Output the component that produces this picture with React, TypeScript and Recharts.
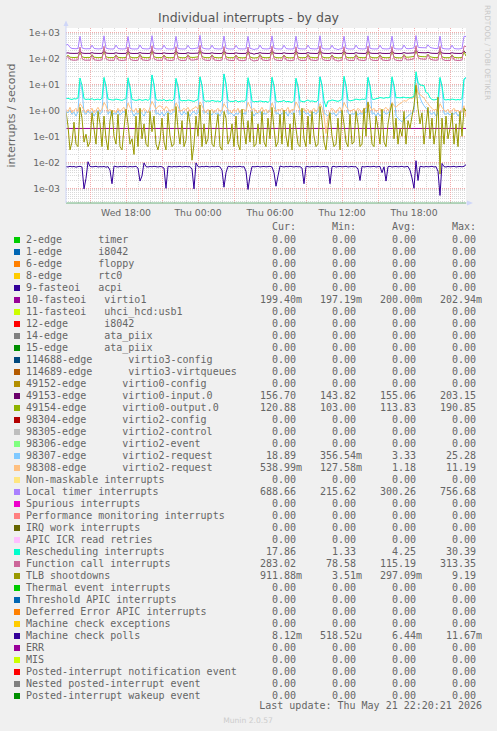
import { LineChart, Line, XAxis, YAxis, CartesianGrid } from 'recharts'

// sample times, minutes after Wed 13:00 (one sample per 10 min)
const times = [
  0, 10, 20, 30, 40, 50, 60, 70, 80, 90, 100, 110,
  120, 130, 140, 150, 160, 170, 180, 190, 200, 210, 220, 230,
  240, 250, 260, 270, 280, 290, 300, 310, 320, 330, 340, 350,
  360, 370, 380, 390, 400, 410, 420, 430, 440, 450, 460, 470,
  480, 490, 500, 510, 520, 530, 540, 550, 560, 570, 580, 590,
  600, 610, 620, 630, 640, 650, 660, 670, 680, 690, 700, 710,
  720, 730, 740, 750, 760, 770, 780, 790, 800, 810, 820, 830,
  840, 850, 860, 870, 880, 890, 900, 910, 920, 930, 940, 950,
  960, 970, 980, 990, 1000, 1010, 1020, 1030, 1040, 1050, 1060, 1070,
  1080, 1090, 1100, 1110, 1120, 1130, 1140, 1150, 1160, 1170, 1180, 1190,
  1200, 1210, 1220, 1230, 1240, 1250, 1260, 1270, 1280, 1290, 1300, 1310,
  1320, 1330, 1340, 1350, 1360, 1370, 1380, 1390, 1400, 1410, 1420, 1430,
  1440, 1450, 1460, 1470, 1480, 1490, 1500, 1510, 1520, 1530, 1540, 1550,
  1560, 1570, 1580, 1590, 1600, 1610, 1620, 1630, 1640, 1650, 1660, 1670,
  1680, 1690, 1700, 1710, 1720, 1730, 1740, 1750, 1760, 1770, 1780, 1790,
  1800, 1810, 1820, 1830, 1840, 1850, 1860, 1870, 1880, 1890, 1900, 1910,
  1920, 1930, 1940, 1950, 1960, 1970, 1980, 1990, 2000,
]

const localTimer = [
  330, 340, 262, 238, 236, 233, 240, 705, 252, 236, 231, 234,
  232, 318, 240, 234, 230, 231, 238, 730, 246, 234, 229, 228,
  230, 322, 238, 232, 229, 230, 236, 690, 240, 230, 228, 229,
  231, 325, 240, 233, 230, 229, 237, 740, 244, 232, 229, 230,
  229, 320, 236, 231, 228, 230, 236, 700, 240, 231, 229, 228,
  233, 316, 239, 232, 236, 245, 250, 756, 258, 238, 231, 229,
  230, 318, 237, 233, 229, 228, 235, 720, 242, 232, 228, 229,
  228, 315, 236, 231, 230, 229, 236, 698, 240, 231, 218, 230,
  230, 322, 238, 232, 229, 230, 237, 725, 243, 233, 229, 228,
  229, 318, 237, 231, 228, 229, 236, 710, 241, 232, 230, 229,
  231, 320, 238, 233, 230, 229, 237, 735, 244, 231, 229, 230,
  230, 317, 236, 232, 216, 230, 236, 705, 240, 231, 228, 229,
  229, 321, 239, 233, 230, 229, 238, 728, 243, 232, 229, 230,
  231, 319, 237, 232, 229, 230, 236, 712, 241, 231, 229, 228,
  230, 323, 240, 234, 236, 242, 252, 745, 268, 258, 256, 254,
  252, 330, 262, 250, 240, 236, 240, 715, 246, 234, 230, 229,
  230, 318, 238, 232, 229, 231, 240, 700, 688.66,
]

const functionCall = [
  95, 120, 90, 86, 84, 85, 88, 270, 98, 86, 84, 85,
  84, 135, 88, 85, 83, 84, 87, 290, 96, 85, 83, 84,
  83, 132, 87, 84, 82, 84, 86, 275, 95, 85, 83, 82,
  84, 138, 88, 85, 83, 83, 87, 300, 97, 86, 83, 84,
  83, 130, 87, 84, 82, 83, 86, 280, 95, 84, 82, 83,
  84, 134, 88, 85, 86, 90, 92, 313, 105, 88, 84, 83,
  83, 133, 87, 84, 82, 82, 86, 285, 96, 85, 83, 82,
  82, 130, 86, 83, 81, 82, 85, 272, 94, 84, 78.6, 82,
  83, 136, 88, 84, 82, 83, 86, 292, 97, 85, 83, 82,
  82, 131, 87, 83, 81, 82, 85, 278, 95, 84, 82, 83,
  84, 137, 88, 85, 83, 82, 86, 298, 98, 85, 83, 82,
  83, 132, 87, 84, 79, 82, 85, 282, 95, 84, 82, 83,
  82, 135, 88, 85, 83, 82, 86, 294, 97, 85, 83, 82,
  83, 133, 87, 84, 82, 83, 85, 284, 95, 84, 82, 81,
  82, 136, 89, 86, 88, 92, 96, 305, 110, 96, 94, 92,
  92, 140, 94, 88, 85, 84, 86, 288, 97, 85, 82, 83,
  82, 132, 87, 84, 82, 83, 86, 292, 283.02,
]

const virtio0Input = [
  158, 162, 156, 155, 154, 155, 156, 185, 160, 155, 154, 155,
  154, 165, 156, 155, 154, 154, 156, 198, 160, 155, 154, 154,
  154, 163, 155, 154, 153, 154, 155, 190, 158, 154, 153, 154,
  154, 166, 156, 155, 154, 153, 156, 203, 161, 155, 154, 154,
  153, 162, 155, 154, 153, 154, 155, 192, 158, 154, 153, 153,
  154, 164, 156, 155, 155, 157, 158, 200, 163, 156, 154, 154,
  154, 163, 155, 154, 153, 153, 155, 195, 159, 154, 153, 154,
  153, 162, 155, 154, 153, 154, 155, 188, 158, 154, 144, 153,
  154, 165, 156, 155, 154, 153, 156, 199, 160, 155, 154, 154,
  153, 163, 155, 154, 153, 154, 155, 191, 158, 154, 153, 154,
  154, 166, 156, 155, 154, 153, 156, 201, 161, 155, 154, 153,
  154, 162, 155, 154, 153, 154, 155, 193, 158, 154, 153, 154,
  153, 165, 156, 155, 154, 153, 156, 198, 160, 155, 154, 154,
  154, 163, 155, 154, 153, 154, 155, 194, 158, 154, 153, 153,
  154, 166, 157, 156, 158, 160, 162, 202, 168, 165, 164, 163,
  162, 170, 160, 156, 155, 154, 156, 196, 160, 155, 154, 154,
  153, 164, 156, 155, 154, 154, 156, 190, 156.7,
]

const virtio0Output = [
  112, 130, 110, 108, 107, 108, 110, 170, 115, 108, 107, 108,
  107, 138, 110, 108, 106, 107, 109, 185, 114, 108, 106, 107,
  106, 135, 109, 107, 105, 106, 108, 178, 113, 107, 105, 106,
  107, 140, 110, 108, 106, 106, 109, 190, 115, 108, 106, 107,
  106, 134, 109, 107, 105, 106, 108, 180, 113, 107, 105, 105,
  107, 137, 110, 108, 108, 111, 113, 188, 118, 109, 106, 106,
  106, 136, 109, 107, 105, 105, 108, 182, 114, 107, 105, 106,
  105, 133, 108, 106, 104, 105, 107, 175, 112, 106, 103, 105,
  106, 139, 110, 107, 105, 106, 108, 186, 114, 107, 105, 105,
  105, 134, 109, 106, 104, 105, 107, 179, 113, 106, 105, 106,
  107, 140, 110, 108, 106, 105, 108, 188, 115, 107, 105, 105,
  106, 135, 109, 107, 103, 105, 107, 181, 113, 106, 105, 106,
  105, 138, 110, 107, 106, 105, 108, 186, 114, 107, 105, 105,
  106, 136, 109, 107, 105, 106, 107, 183, 113, 106, 105, 104,
  105, 139, 111, 110, 112, 115, 118, 190, 124, 118, 116, 115,
  114, 142, 115, 110, 107, 106, 108, 184, 114, 107, 105, 106,
  105, 136, 109, 107, 105, 106, 108, 176, 120.88,
]

const rescheduling = [
  2.8, 2.9, 2.7, 2.6, 2.8, 2.7, 3.0, 17.5, 9.0, 2.8, 2.6, 2.7,
  2.6, 2.8, 2.5, 2.6, 2.7, 2.5, 2.9, 18.5, 8.5, 2.7, 2.6, 2.5,
  2.5, 2.7, 2.6, 2.5, 2.4, 2.6, 2.8, 17.8, 8.0, 2.6, 2.5, 2.4,
  2.5, 2.6, 2.4, 2.5, 2.6, 2.4, 2.8, 22.5, 9.5, 2.6, 2.4, 2.5,
  2.4, 2.6, 2.3, 2.4, 2.5, 2.3, 2.7, 17.0, 8.0, 2.5, 2.3, 2.4,
  2.3, 2.5, 2.4, 2.3, 2.2, 2.4, 2.6, 19.5, 9.0, 2.4, 2.2, 2.3,
  2.2, 2.4, 2.3, 2.2, 2.3, 2.1, 2.5, 24.5, 10.0, 2.4, 2.2, 2.2,
  2.2, 2.4, 2.1, 2.2, 2.3, 2.2, 2.5, 18.0, 8.5, 2.3, 2.1, 2.2,
  2.1, 2.3, 2.2, 2.1, 2.2, 2.0, 2.4, 18.8, 8.8, 2.3, 2.1, 2.2,
  2.2, 2.4, 2.1, 2.2, 2.1, 2.0, 2.4, 17.2, 8.0, 2.3, 2.2, 2.1,
  2.3, 2.5, 2.2, 2.3, 2.2, 2.1, 2.5, 19.0, 9.0, 2.4, 1.33, 2.3,
  2.3, 2.5, 2.4, 2.3, 2.2, 2.4, 2.6, 20.5, 9.2, 2.5, 2.3, 2.4,
  2.5, 2.7, 2.6, 2.5, 2.7, 2.6, 2.8, 18.5, 8.5, 2.7, 2.6, 2.8,
  2.9, 3.1, 3.0, 2.9, 3.1, 3.0, 3.2, 19.5, 9.0, 3.0, 3.1, 3.0,
  3.1, 3.2, 3.0, 3.1, 3.0, 3.2, 3.4, 30.39, 12.0, 9.4, 9.2, 8.8,
  4.8, 4.5, 3.0, 2.6, 2.5, 2.6, 2.8, 18.5, 8.5, 2.6, 2.5, 2.6,
  2.5, 2.7, 2.6, 2.5, 2.6, 2.5, 2.8, 16.0, 17.86,
]

const virtio2Request7 = [
  0.9, 0.8, 1.0, 0.7, 0.85, 0.6, 0.9, 12.0, 6.0, 0.8, 0.7, 0.95,
  0.75, 0.9, 0.6, 0.8, 1.0, 0.7, 0.85, 16.0, 8.0, 0.7, 0.9, 0.6,
  0.8, 0.7, 0.95, 0.65, 0.8, 0.9, 0.7, 14.0, 7.0, 0.85, 0.6, 0.8,
  0.7, 0.9, 0.75, 0.6, 0.9, 0.8, 1.0, 23.0, 10.0, 0.7, 0.8, 0.65,
  0.85, 0.6, 0.8, 0.9, 0.7, 0.75, 0.9, 15.0, 7.5, 0.8, 0.65, 0.9,
  0.7, 0.85, 0.6, 0.8, 0.9, 0.7, 0.8, 18.0, 9.0, 0.75, 0.9, 0.7,
  0.8, 0.65, 0.9, 0.7, 0.8, 0.6, 0.85, 25.28, 11.0, 0.7, 0.8, 0.75,
  0.6, 0.8, 0.7, 0.9, 0.65, 0.8, 0.7, 14.0, 7.0, 0.85, 0.6, 0.8,
  0.75, 0.9, 0.6, 0.8, 0.7, 0.85, 0.9, 17.0, 8.5, 0.7, 0.8, 0.6,
  0.8, 0.7, 0.85, 0.6, 0.9, 0.7, 0.8, 15.5, 7.5, 0.65, 0.8, 0.9,
  0.7, 0.8, 0.6, 0.75, 0.85, 0.7, 0.9, 20.0, 9.5, 0.8, 0.7, 0.6,
  0.85, 0.7, 0.8, 0.6, 0.75, 0.9, 0.7, 16.5, 8.0, 0.8, 0.65, 0.75,
  0.7, 0.9, 0.65, 0.8, 0.7, 0.85, 0.8, 18.0, 8.5, 0.7, 0.8, 0.6,
  0.8, 0.6, 0.75, 0.9, 0.7, 0.8, 0.85, 17.0, 8.0, 0.6, 0.5, 0.42,
  0.36, 0.45, 0.5, 0.6, 0.7, 0.8, 0.9, 22.0, 10.0, 3.0, 2.0, 1.5,
  1.2, 1.0, 0.8, 0.7, 0.85, 0.6, 0.8, 16.0, 8.0, 0.75, 0.7, 0.8,
  0.65, 0.8, 0.7, 0.85, 0.6, 0.75, 0.9, 14.0, 18.89,
]

const virtio2Request8 = [
  1.1, 0.9, 1.3, 0.8, 1.0, 1.2, 0.9, 1.8, 1.4, 1.0, 0.8, 1.1,
  0.9, 1.2, 0.8, 1.0, 1.3, 0.9, 1.1, 2.0, 1.5, 0.9, 1.1, 0.8,
  1.0, 0.8, 1.2, 0.9, 1.1, 1.3, 0.8, 1.9, 1.3, 1.0, 0.9, 1.2,
  0.8, 1.1, 0.9, 1.2, 1.0, 0.8, 1.3, 2.2, 1.6, 1.1, 1.4, 1.5,
  1.3, 1.0, 1.4, 1.2, 0.9, 1.1, 1.0, 1.9, 1.4, 0.9, 1.0, 1.2,
  1.0, 1.3, 0.9, 1.1, 1.2, 1.4, 1.1, 2.1, 1.5, 1.0, 0.8, 1.1,
  0.9, 1.1, 0.8, 1.0, 1.2, 0.9, 1.0, 1.8, 1.3, 1.1, 0.9, 0.8,
  1.1, 0.9, 1.2, 0.8, 1.0, 1.1, 0.9, 2.0, 1.4, 1.0, 1.2, 0.9,
  0.8, 1.0, 1.3, 0.9, 1.1, 0.8, 1.0, 1.9, 1.3, 0.9, 1.1, 1.0,
  1.2, 0.9, 1.0, 1.3, 0.8, 1.1, 1.0, 2.1, 1.5, 1.0, 0.9, 1.2,
  0.9, 1.1, 0.8, 1.0, 1.2, 0.9, 1.1, 1.8, 1.3, 0.6, 0.128, 0.5,
  0.9, 1.2, 1.0, 0.8, 1.1, 1.3, 0.9, 2.0, 1.4, 1.1, 0.9, 1.0,
  1.1, 0.9, 1.2, 1.0, 0.8, 1.1, 1.2, 1.9, 1.4, 1.0, 1.2, 0.9,
  1.0, 1.2, 0.9, 1.1, 1.3, 1.0, 1.2, 2.0, 1.5, 1.3, 1.6, 1.8,
  2.0, 2.4, 2.2, 2.6, 3.0, 2.8, 3.2, 11.19, 4.5, 4.0, 3.5, 3.0,
  2.2, 1.8, 1.4, 1.2, 1.0, 1.1, 0.9, 1.8, 1.3, 1.0, 0.9, 1.1,
  0.8, 1.0, 1.2, 0.9, 1.0, 0.8, 0.9, 1.5, 0.539,
]

const tlbShootdowns = [
  0.9, 0.25, 0.03, 0.06, 0.35, 0.05, 0.04, 1.3, 0.5, 0.06, 0.12, 0.04,
  0.06, 0.8, 0.2, 0.05, 0.9, 0.3, 0.04, 0.6, 0.08, 0.03, 0.4, 1.0,
  0.1, 0.05, 0.7, 0.04, 0.03, 0.2, 1.1, 0.3, 0.05, 0.08, 0.02, 0.6,
  0.04, 1.2, 0.08, 0.3, 0.05, 0.04, 0.9, 0.15, 0.6, 0.05, 0.03, 0.07,
  0.5, 0.06, 0.03, 0.8, 0.1, 0.04, 0.05, 1.4, 0.2, 0.05, 0.4, 0.04,
  0.07, 0.9, 0.3, 0.012, 0.05, 0.6, 0.1, 1.6, 0.04, 0.3, 0.05, 0.08,
  1.0, 0.05, 0.04, 0.2, 0.7, 0.04, 0.03, 0.9, 0.5, 0.05, 0.08, 0.3,
  0.04, 0.6, 0.05, 0.03, 1.1, 0.2, 0.05, 0.4, 0.06, 0.9, 0.04, 0.05,
  0.3, 0.05, 0.9, 0.06, 0.04, 0.5, 0.08, 1.3, 0.2, 0.04, 0.06, 0.7,
  0.05, 1.0, 0.1, 0.04, 0.3, 0.03, 0.8, 0.2, 0.05, 0.04, 1.2, 0.08,
  0.04, 0.6, 0.05, 0.9, 0.1, 0.04, 0.05, 1.4, 0.4, 0.06, 0.03, 0.2,
  0.8, 0.1, 0.04, 0.05, 0.5, 0.03, 1.0, 0.3, 0.06, 0.04, 0.7, 0.05,
  0.06, 0.9, 0.3, 0.04, 0.05, 1.2, 0.1, 2.1, 0.4, 0.05, 0.04, 0.6,
  0.2, 0.05, 1.1, 0.06, 0.04, 0.3, 0.9, 1.8, 0.08, 0.5, 0.05, 0.2,
  0.1, 0.9, 0.05, 0.4, 0.2, 0.6, 1.5, 9.19, 1.2, 0.3, 0.8, 0.05,
  0.3, 1.3, 0.08, 0.5, 0.05, 0.2, 3.2, 0.0035, 0.5, 0.05, 0.6, 0.08,
  0.2, 0.8, 0.05, 0.3, 0.04, 0.9, 0.1, 1.2, 0.912,
]

const machineCheckPolls = [
  0.0068, 0.0066, 0.007, 0.0067, 0.0069, 0.0065, 0.0068, 0.007, 0.0066, 0.00095, 0.0024, 0.0105,
  0.0069, 0.0067, 0.0068, 0.007, 0.0066, 0.0068, 0.0067, 0.0069, 0.0065, 0.0068, 0.005, 0.0015,
  0.0072, 0.0068, 0.0066, 0.0069, 0.0067, 0.007, 0.0068, 0.0066, 0.0069, 0.0067, 0.0068, 0.007,
  0.006, 0.0019, 0.003, 0.0095, 0.0068, 0.0066, 0.0069, 0.0067, 0.007, 0.0068, 0.0066, 0.0069,
  0.0067, 0.006, 0.001, 0.007, 0.0068, 0.0066, 0.0069, 0.0067, 0.0068, 0.007, 0.0066, 0.0068,
  0.0069, 0.0067, 0.0068, 0.0055, 0.00095, 0.0095, 0.0068, 0.0066, 0.0069, 0.0067, 0.007, 0.0068,
  0.0066, 0.0069, 0.0067, 0.0068, 0.007, 0.0066, 0.005, 0.0011, 0.004, 0.007, 0.0068, 0.0066,
  0.0069, 0.0067, 0.0068, 0.007, 0.0066, 0.0068, 0.0045, 0.0009, 0.003, 0.0069, 0.0067, 0.0068,
  0.007, 0.0066, 0.0068, 0.0069, 0.0067, 0.0068, 0.007, 0.0066, 0.004, 0.0012, 0.003, 0.0072,
  0.0068, 0.0066, 0.0069, 0.0067, 0.007, 0.0068, 0.0066, 0.0069, 0.0067, 0.0068, 0.006, 0.0015,
  0.007, 0.0068, 0.0066, 0.0069, 0.0067, 0.0068, 0.007, 0.0066, 0.0068, 0.0069, 0.0067, 0.0068,
  0.0015, 0.0068, 0.007, 0.0066, 0.0068, 0.0069, 0.0067, 0.0068, 0.007, 0.0066, 0.0068, 0.0069,
  0.0067, 0.0068, 0.0055, 0.002, 0.007, 0.0066, 0.0068, 0.0069, 0.0067, 0.0068, 0.007, 0.0066,
  0.0068, 0.0069, 0.004, 0.0067, 0.0019, 0.0068, 0.007, 0.0066, 0.0068, 0.0069, 0.0067, 0.0068,
  0.007, 0.0066, 0.0068, 0.0069, 0.005, 0.0025, 0.001, 0.0115, 0.002, 0.007, 0.0068, 0.0066,
  0.0069, 0.0067, 0.0068, 0.007, 0.0066, 0.0068, 0.0045, 0.00053, 0.009, 0.0068, 0.0066, 0.0069,
  0.0067, 0.0068, 0.007, 0.0066, 0.0068, 0.0069, 0.0067, 0.007, 0.00812,
]

// 10-fasteoi virtio1 stays flat over the whole day
const virtio1Times = [0, 2000]
const virtio1Values = [0.2, 0.2]

const xTickValues = [300, 660, 1020, 1380, 1740]
const xTickLabels = ['Wed 18:00', 'Thu 00:00', 'Thu 06:00', 'Thu 12:00', 'Thu 18:00']
const yTickValues = [0.001, 0.01, 0.1, 1, 10, 100, 1000]
const yTickLabels = ['1e-03', '1e-02', '1e-01', '1e+00', '1e+01', '1e+02', '1e+03']
const yDomain = [0.000272, 1462]

const legendLabels = [
  '2-edge      timer', '1-edge      i8042', '6-edge      floppy', '8-edge      rtc0',
  '9-fasteoi   acpi', '10-fasteoi   virtio1', '11-fasteoi   uhci_hcd:usb1', '12-edge      i8042',
  '14-edge      ata_piix', '15-edge      ata_piix', '114688-edge      virtio3-config',
  '114689-edge      virtio3-virtqueues', '49152-edge      virtio0-config',
  '49153-edge      virtio0-input.0', '49154-edge      virtio0-output.0',
  '98304-edge      virtio2-config', '98305-edge      virtio2-control', '98306-edge      virtio2-event',
  '98307-edge      virtio2-request', '98308-edge      virtio2-request',
  'Non-maskable interrupts', 'Local timer interrupts', 'Spurious interrupts',
  'Performance monitoring interrupts', 'IRQ work interrupts', 'APIC ICR read retries',
  'Rescheduling interrupts', 'Function call interrupts', 'TLB shootdowns',
  'Thermal event interrupts', 'Threshold APIC interrupts', 'Deferred Error APIC interrupts',
  'Machine check exceptions', 'Machine check polls', 'ERR', 'MIS',
  'Posted-interrupt notification event', 'Nested posted-interrupt event', 'Posted-interrupt wakeup event',
]
const legendColors = [
  '#00CC00', '#0066B3', '#FF8000', '#FFCC00', '#330099', '#990099', '#CCFF00', '#FF0000',
  '#808080', '#008F00', '#00487D', '#B35A00', '#B38F00', '#6B006B', '#8FB300', '#B30000',
  '#BEBEBE', '#80FF80', '#80C9FF', '#FFC080', '#FFE680', '#AA80FF', '#EE00CC', '#FF8080',
  '#666600', '#FFBFFF', '#00FFCC', '#CC6699', '#999900', '#00CC00', '#0066B3', '#FF8000',
  '#FFCC00', '#330099', '#990099', '#CCFF00', '#FF0000', '#808080', '#008F00',
]
const z = '0.00'
const legendCur = [z, z, z, z, z, '199.40m', z, z, z, z, z, z, z, '156.70', '120.88', z, z, z, '18.89', '538.99m', z, '688.66', z, z, z, z, '17.86', '283.02', '911.88m', z, z, z, z, '8.12m', z, z, z, z, z]
const legendMin = [z, z, z, z, z, '197.19m', z, z, z, z, z, z, z, '143.82', '103.00', z, z, z, '356.54m', '127.58m', z, '215.62', z, z, z, z, '1.33', '78.58', '3.51m', z, z, z, z, '518.52u', z, z, z, z, z]
const legendAvg = [z, z, z, z, z, '200.00m', z, z, z, z, z, z, z, '155.06', '113.83', z, z, z, '3.33', '1.18', z, '300.26', z, z, z, z, '4.25', '115.19', '297.09m', z, z, z, z, '6.44m', z, z, z, z, z]
const legendMax = [z, z, z, z, z, '202.94m', z, z, z, z, z, z, z, '203.15', '190.85', z, z, z, '25.28', '11.19', z, '756.68', z, z, z, z, '30.39', '313.35', '9.19', z, z, z, z, '11.67m', z, z, z, z, z]

// drawn in rrdtool order, later ones on top
const plotted = [
  { name: 'virtio1', color: '#990099', t: virtio1Times, v: virtio1Values },
  { name: 'virtio0-input.0', color: '#6B006B', t: times, v: virtio0Input },
  { name: 'virtio0-output.0', color: '#8FB300', t: times, v: virtio0Output },
  { name: '98307', color: '#80C9FF', t: times, v: virtio2Request7 },
  { name: '98308', color: '#FFC080', t: times, v: virtio2Request8 },
  { name: 'LOC', color: '#AA80FF', t: times, v: localTimer },
  { name: 'RES', color: '#00FFCC', t: times, v: rescheduling },
  { name: 'CAL', color: '#CC6699', t: times, v: functionCall },
  { name: 'TLB', color: '#999900', t: times, v: tlbShootdowns },
  { name: 'MCP', color: '#330099', t: times, v: machineCheckPolls },
]

const minorY: number[] = []
for (let e = -4; e <= 3; e++) for (let m = 2; m <= 9; m++) {
  const v = m * Math.pow(10, e)
  if (v > yDomain[0] && v < yDomain[1]) minorY.push(v)
}
const minorX: number[] = []
for (let h = 60; h < 2000; h += 60) if ((h - 120) % 180 !== 0) minorX.push(h)
const majorX: number[] = []
for (let h = 120; h < 2000; h += 180) majorX.push(h)

const FONT = '#666666'
const AXIS = '#CFD6F8'
const sans = 'DejaVu Sans, sans-serif'
const mono = 'DejaVu Sans Mono, monospace'

function splitUnit(s: string) {
  const last = s[s.length - 1]
  return /[a-z]/i.test(last) ? [s.slice(0, -1), last] : [s, '']
}

function ValueCell({ x, y, value }: { x: number; y: number; value: string }) {
  const [num, unit] = splitUnit(value)
  return (
    <>
      <text x={x} y={y} textAnchor="end">{num}</text>
      {unit && <text x={x} y={y}>{unit}</text>}
    </>
  )
}

export default function App() {
  const rowY = (i: number) => 243 + 12 * i
  const cols = [296, 356, 416, 476]
  return (
    <div style={{ position: 'absolute', left: 0, top: 0, width: 497, height: 731, background: '#F0F0F0', overflow: 'hidden' }}>
      <div style={{ position: 'absolute', left: 0, top: 0 }}>
        <LineChart width={497} height={233} margin={{ top: 28, right: 31, bottom: 0, left: 0 }}>
          <CartesianGrid
            fill="#FFFFFF"
            stroke="#D9D9D9"
            strokeDasharray="1 1"
            shapeRendering="crispEdges"
            horizontalValues={minorY}
            verticalValues={minorX}
          />
          <CartesianGrid
            stroke="#F2ABAB"
            strokeDasharray="1 1"
            shapeRendering="crispEdges"
            horizontalValues={yTickValues}
            verticalValues={majorX}
          />
          <XAxis
            type="number"
            dataKey="t"
            domain={[0, 2000]}
            allowDataOverflow
            ticks={xTickValues}
            interval={0}
            tickFormatter={(v: number) => xTickLabels[xTickValues.indexOf(v)]}
            height={30}
            tickLine={false}
            tickSize={0}
            tickMargin={6}
            axisLine={{ stroke: '#6DB07D' }}
            tick={{ fill: FONT, fontSize: 9.3, fontFamily: sans }}
          />
          <YAxis
            type="number"
            scale="log"
            domain={yDomain}
            allowDataOverflow
            ticks={yTickValues}
            interval={0}
            tickFormatter={(v: number) => yTickLabels[yTickValues.indexOf(v)]}
            width={66}
            tickLine={false}
            tickSize={0}
            tickMargin={6}
            axisLine={{ stroke: AXIS }}
            tick={{ fill: FONT, fontSize: 9.3, fontFamily: sans }}
          />
          {plotted.map((s) => (
            <Line
              key={s.name}
              data={s.t.map((t, i) => ({ t, v: s.v[i] }))}
              dataKey="v"
              type="linear"
              stroke={s.color}
              strokeWidth={1}
              dot={false}
              activeDot={false}
              isAnimationActive={false}
            />
          ))}
        </LineChart>
      </div>

      <svg width={497} height={731} style={{ position: 'absolute', left: 0, top: 0, pointerEvents: 'none' }}>
        {/* axis arrows */}
        <line x1={66} y1={25} x2={66} y2={28} stroke={AXIS} />
        <polygon points="63.5,26 68.5,26 66,20.5" fill={AXIS} />
        <line x1={466} y1={203} x2={468} y2={203} stroke={AXIS} />
        <polygon points="467,200.5 467,205.5 473,203" fill={AXIS} />

        <text x={248.5} y={22.4} textAnchor="middle" fill="#555555" fontFamily={sans} fontSize={12.5}>
          Individual interrupts - by day
        </text>
        <text transform="translate(15,115.5) rotate(-90)" textAnchor="middle" fill={FONT} fontFamily={sans} fontSize={11}>
          interrupts / second
        </text>
        <text transform="translate(485,52.5) rotate(90)" textAnchor="middle" fill="#C8C8C8" fontFamily={sans} fontSize={7.4}>
          RRDTOOL / TOBI OETIKER
        </text>

        <g fill={FONT} fontFamily={mono} fontSize={10} style={{ whiteSpace: 'pre' }}>
          <text x={cols[0]} y={230} textAnchor="end">Cur:</text>
          <text x={cols[1]} y={230} textAnchor="end">Min:</text>
          <text x={cols[2]} y={230} textAnchor="end">Avg:</text>
          <text x={cols[3]} y={230} textAnchor="end">Max:</text>
          {legendLabels.map((label, i) => (
            <g key={i}>
              <rect x={14} y={rowY(i) - 6} width={6} height={6} fill={legendColors[i]} />
              <text x={26} y={rowY(i)} xmlSpace="preserve">{label}</text>
              <ValueCell x={cols[0]} y={rowY(i)} value={legendCur[i]} />
              <ValueCell x={cols[1]} y={rowY(i)} value={legendMin[i]} />
              <ValueCell x={cols[2]} y={rowY(i)} value={legendAvg[i]} />
              <ValueCell x={cols[3]} y={rowY(i)} value={legendMax[i]} />
            </g>
          ))}
          <text x={482} y={709} textAnchor="end">Last update: Thu May 21 22:20:21 2026</text>
        </g>
        <text x={248} y={723} textAnchor="middle" fill="#CCCCCC" fontFamily={sans} fontSize={7.6}>
          Munin 2.0.57
        </text>
      </svg>
    </div>
  )
}
